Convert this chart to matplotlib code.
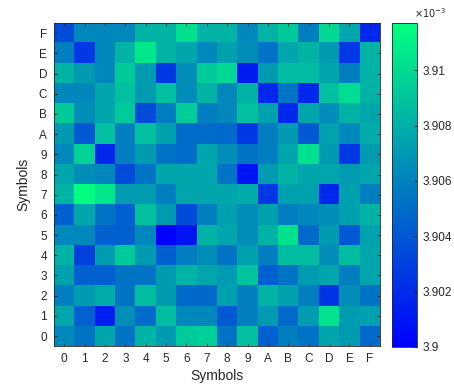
import numpy as np
import matplotlib
matplotlib.use("Agg")
import matplotlib.pyplot as plt

plt.rcParams["font.family"] = ["Liberation Sans", "DejaVu Sans"]

SYMBOLS = list("0123456789ABCDEF")

# values in units of 1e-3, rows = y symbol 0..F, columns = x symbol 0..F
ROW_0 = [3.9062, 3.9053, 3.9076, 3.9053, 3.9082, 3.9071, 3.9092, 3.9095, 3.9053, 3.9088, 3.9044, 3.9058, 3.9053, 3.9076, 3.9071, 3.9048]
ROW_1 = [3.9076, 3.9044, 3.9014, 3.9065, 3.9049, 3.9086, 3.9062, 3.9062, 3.9041, 3.9058, 3.9071, 3.9048, 3.9071, 3.9104, 3.9071, 3.9074]
ROW_2 = [3.9058, 3.9071, 3.9079, 3.9053, 3.9086, 3.9071, 3.9048, 3.9048, 3.9074, 3.9058, 3.9082, 3.9074, 3.9058, 3.9023, 3.9065, 3.9053]
ROW_3 = [3.9074, 3.9044, 3.9044, 3.9053, 3.9053, 3.9071, 3.9082, 3.9076, 3.9071, 3.9090, 3.9044, 3.9053, 3.9071, 3.9076, 3.9058, 3.9076]
ROW_4 = [3.9082, 3.9030, 3.9071, 3.9092, 3.9071, 3.9044, 3.9058, 3.9065, 3.9053, 3.9074, 3.9058, 3.9086, 3.9086, 3.9065, 3.9086, 3.9076]
ROW_5 = [3.9062, 3.9062, 3.9044, 3.9044, 3.9062, 3.9000, 3.9009, 3.9082, 3.9076, 3.9065, 3.9082, 3.9103, 3.9048, 3.9071, 3.9041, 3.9074]
ROW_6 = [3.9044, 3.9076, 3.9053, 3.9044, 3.9088, 3.9071, 3.9035, 3.9058, 3.9074, 3.9065, 3.9074, 3.9058, 3.9062, 3.9065, 3.9074, 3.9082]
ROW_7 = [3.9082, 3.9117, 3.9106, 3.9071, 3.9071, 3.9058, 3.9076, 3.9076, 3.9076, 3.9079, 3.9026, 3.9074, 3.9074, 3.9018, 3.9074, 3.9058]
ROW_8 = [3.9076, 3.9065, 3.9062, 3.9035, 3.9053, 3.9076, 3.9076, 3.9076, 3.9053, 3.9009, 3.9071, 3.9082, 3.9076, 3.9076, 3.9071, 3.9076]
ROW_9 = [3.9062, 3.9097, 3.9018, 3.9058, 3.9071, 3.9053, 3.9049, 3.9076, 3.9065, 3.9053, 3.9058, 3.9076, 3.9103, 3.9071, 3.9026, 3.9071]
ROW_A = [3.9071, 3.9041, 3.9088, 3.9058, 3.9088, 3.9074, 3.9049, 3.9049, 3.9048, 3.9026, 3.9058, 3.9071, 3.9041, 3.9074, 3.9062, 3.9079]
ROW_B = [3.9092, 3.9065, 3.9076, 3.9092, 3.9035, 3.9058, 3.9094, 3.9058, 3.9062, 3.9088, 3.9074, 3.9018, 3.9076, 3.9065, 3.9082, 3.9076]
ROW_C = [3.9062, 3.9062, 3.9076, 3.9088, 3.9071, 3.9088, 3.9065, 3.9082, 3.9062, 3.9082, 3.9018, 3.9053, 3.9018, 3.9088, 3.9101, 3.9082]
ROW_D = [3.9082, 3.9071, 3.9062, 3.9092, 3.9071, 3.9026, 3.9065, 3.9092, 3.9099, 3.9012, 3.9071, 3.9086, 3.9086, 3.9076, 3.9058, 3.9082]
ROW_E = [3.9058, 3.9026, 3.9062, 3.9082, 3.9106, 3.9082, 3.9076, 3.9062, 3.9074, 3.9065, 3.9053, 3.9076, 3.9082, 3.9071, 3.9026, 3.9082]
ROW_F = [3.9035, 3.9062, 3.9062, 3.9062, 3.9082, 3.9082, 3.9103, 3.9082, 3.9082, 3.9062, 3.9082, 3.9092, 3.9058, 3.9099, 3.9076, 3.9018]

CBAR_TICKS = [3.9, 3.902, 3.904, 3.906, 3.908, 3.91]
CBAR_LABELS = ["3.9", "3.902", "3.904", "3.906", "3.908", "3.91"]

data = np.array([ROW_0, ROW_1, ROW_2, ROW_3, ROW_4, ROW_5, ROW_6, ROW_7,
                 ROW_8, ROW_9, ROW_A, ROW_B, ROW_C, ROW_D, ROW_E, ROW_F])

TXT = "#262626"
fig = plt.figure(figsize=(4.54, 3.92), dpi=100)
ax = fig.add_axes([0.119, 0.117, 0.718, 0.824])
im = ax.imshow(data, cmap="winter", origin="lower", aspect="auto",
               interpolation="nearest", vmin=data.min(), vmax=data.max())

ax.set_xticks(np.arange(16))
ax.set_xticklabels(SYMBOLS)
ax.set_yticks(np.arange(16))
ax.set_yticklabels(SYMBOLS)
ax.tick_params(direction="in", top=True, right=True, length=2.5, width=0.6,
               labelsize=8.5, colors=TXT, pad=5)
ax.set_xlabel("Symbols", fontsize=10, color=TXT, labelpad=3)
ax.set_ylabel("Symbols", fontsize=10, color=TXT, labelpad=6)
for s in ax.spines.values():
    s.set_linewidth(0.6)
    s.set_color(TXT)

cax = fig.add_axes([0.863, 0.115, 0.055, 0.826])
cb = fig.colorbar(im, cax=cax)
cb.set_ticks(CBAR_TICKS)
cb.set_ticklabels(CBAR_LABELS)
cax.tick_params(direction="in", length=2.5, width=0.6, labelsize=8.5,
                colors=TXT, pad=4)
cb.outline.set_linewidth(0.6)
cb.outline.set_edgecolor(TXT)
fig.text(0.912, 0.967, r"$\times10^{-3}$", fontsize=7, color=TXT,
         ha="left", va="center")

fig.savefig("out.png", dpi=100)
